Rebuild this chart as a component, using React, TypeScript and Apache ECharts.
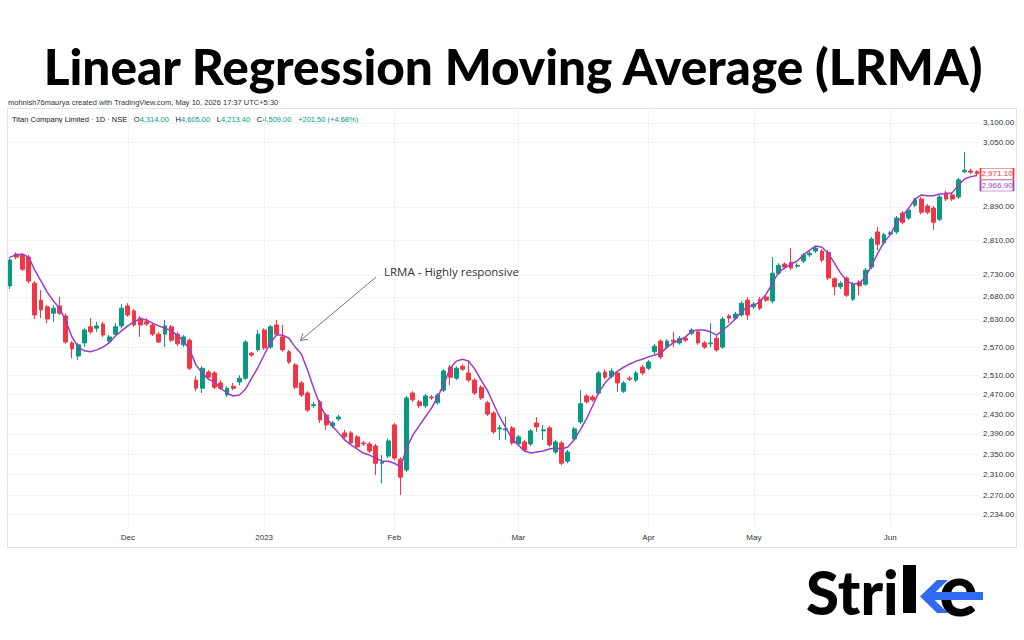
import React, { useEffect, useRef } from 'react';
import * as echarts from 'echarts';

// Trading days per month (NSE sessions), Titan Company daily chart
const nov2022 = [3, 4, 7, 9, 10, 11, 14, 15, 16, 17, 18, 21, 22, 23, 24, 25, 28, 29, 30];
const dec2022 = [1, 2, 5, 6, 7, 8, 9, 12, 13, 14, 15, 16, 19, 20, 21, 22, 23, 26, 27, 28, 29, 30];
const jan2023 = [2, 3, 4, 5, 6, 9, 10, 11, 12, 13, 16, 17, 18, 19, 20, 23, 24, 25, 27, 30, 31];
const feb2023 = [1, 2, 3, 6, 7, 8, 9, 10, 13, 14, 15, 16, 17, 20, 21, 22, 23, 24, 27, 28];
const mar2023 = [1, 2, 3, 6, 8, 9, 10, 13, 14, 15, 16, 17, 20, 21, 22, 23, 24, 27, 28, 29, 31];
const apr2023 = [3, 5, 6, 10, 11, 12, 13, 17, 18, 19, 20, 21, 24, 25, 26, 27, 28];
const may2023 = [2, 3, 4, 5, 8, 9, 10, 11, 12, 15, 16, 17, 18, 19, 22, 23, 24, 25, 26, 29, 30, 31];
const jun2023 = [1, 2, 5, 6, 7, 8, 9, 12, 13, 14, 15, 16, 19, 20, 21];

// Time-axis labels: first session of each month
const monthTickDates = ['2022-12-01', '2023-01-02', '2023-02-01', '2023-03-01', '2023-04-03', '2023-05-02', '2023-06-01'];
const monthTickLabels = ['Dec', '2023', 'Feb', 'Mar', 'Apr', 'May', 'Jun'];

// Price-scale labels (log scale)
const priceTicks = [3100, 3050, 2890, 2810, 2730, 2680, 2630, 2570, 2510, 2470, 2430, 2390, 2350, 2310, 2270, 2234];

const opens = [
  2705, 2778, 2776, 2771, 2711, 2673, 2658, 2644, 2660, 2638,
  2579, 2551, 2579, 2614, 2611, 2620, 2583, 2598, 2616, 2660,
  2649, 2633, 2625, 2618, 2598, 2598, 2614, 2598, 2575, 2585,
  2500, 2483, 2517, 2515, 2494, 2469, 2487, 2496, 2504, 2557,
  2564, 2607, 2570, 2618, 2592, 2560, 2532, 2494, 2473, 2447,
  2455, 2428, 2406, 2420, 2392, 2392, 2384, 2372, 2370, 2366,
  2332, 2346, 2408, 2340, 2319, 2473, 2455, 2447, 2465, 2453,
  2479, 2527, 2504, 2529, 2515, 2500, 2485, 2453, 2432, 2400,
  2398, 2402, 2370, 2374, 2370, 2412, 2396, 2402, 2354, 2372,
  2336, 2380, 2414, 2467, 2465, 2473, 2517, 2508, 2515, 2477,
  2504, 2500, 2527, 2525, 2560, 2583, 2570, 2585, 2579, 2589,
  2600, 2603, 2579, 2577, 2589, 2570, 2638, 2633, 2640, 2673,
  2658, 2675, 2680, 2671, 2734, 2755, 2759, 2750, 2762, 2776,
  2785, 2785, 2782, 2721, 2703, 2723, 2675, 2714, 2709, 2748,
  2830, 2804, 2825, 2830, 2875, 2863, 2894, 2909, 2892, 2887,
  2860, 2924, 2919, 2914, 2976, 2978, 2976,
];

const highs = [
  2771, 2782, 2780, 2776, 2716, 2696, 2662, 2662, 2680, 2644,
  2583, 2579, 2611, 2633, 2625, 2625, 2596, 2622, 2664, 2666,
  2653, 2638, 2633, 2622, 2603, 2629, 2618, 2603, 2596, 2589,
  2508, 2529, 2521, 2519, 2500, 2487, 2494, 2510, 2585, 2560,
  2607, 2611, 2618, 2629, 2618, 2564, 2536, 2498, 2477, 2455,
  2459, 2432, 2416, 2428, 2398, 2396, 2388, 2376, 2374, 2370,
  2348, 2380, 2412, 2344, 2467, 2477, 2459, 2471, 2469, 2473,
  2523, 2532, 2529, 2534, 2542, 2504, 2489, 2457, 2436, 2408,
  2424, 2406, 2388, 2378, 2400, 2424, 2408, 2406, 2378, 2376,
  2358, 2404, 2479, 2471, 2469, 2519, 2523, 2525, 2519, 2498,
  2508, 2519, 2532, 2542, 2577, 2587, 2587, 2603, 2594, 2594,
  2611, 2607, 2583, 2622, 2594, 2636, 2642, 2647, 2671, 2680,
  2669, 2680, 2684, 2771, 2757, 2759, 2792, 2757, 2780, 2785,
  2797, 2790, 2787, 2725, 2716, 2727, 2714, 2718, 2746, 2818,
  2842, 2828, 2832, 2868, 2880, 2887, 2912, 2914, 2897, 2892,
  2919, 2929, 2924, 2961, 3026, 2984, 2980,
];

const lows = [
  2698, 2766, 2739, 2711, 2631, 2633, 2622, 2625, 2640, 2577,
  2546, 2542, 2570, 2598, 2603, 2592, 2579, 2594, 2611, 2636,
  2614, 2592, 2616, 2594, 2579, 2570, 2581, 2572, 2570, 2521,
  2477, 2473, 2500, 2481, 2479, 2465, 2479, 2489, 2500, 2549,
  2560, 2564, 2566, 2594, 2560, 2534, 2481, 2465, 2434, 2442,
  2412, 2398, 2402, 2416, 2378, 2368, 2360, 2366, 2352, 2309,
  2293, 2342, 2338, 2271, 2315, 2455, 2442, 2442, 2459, 2449,
  2475, 2489, 2500, 2519, 2496, 2469, 2459, 2426, 2390, 2378,
  2378, 2368, 2366, 2354, 2366, 2394, 2378, 2364, 2350, 2328,
  2332, 2376, 2410, 2451, 2455, 2469, 2502, 2504, 2475, 2473,
  2498, 2496, 2510, 2521, 2555, 2544, 2566, 2570, 2575, 2581,
  2596, 2575, 2566, 2570, 2560, 2566, 2622, 2629, 2636, 2629,
  2653, 2651, 2669, 2666, 2730, 2743, 2741, 2746, 2757, 2771,
  2780, 2759, 2718, 2684, 2698, 2680, 2671, 2684, 2705, 2743,
  2787, 2799, 2820, 2825, 2848, 2858, 2889, 2872, 2872, 2835,
  2856, 2904, 2904, 2909, 2972, 2970, 2967,
];

const closes = [
  2764, 2771, 2743, 2716, 2640, 2651, 2631, 2655, 2644, 2581,
  2566, 2575, 2607, 2603, 2616, 2596, 2592, 2614, 2655, 2640,
  2618, 2618, 2620, 2598, 2581, 2616, 2585, 2577, 2592, 2525,
  2483, 2525, 2506, 2485, 2483, 2483, 2483, 2504, 2581, 2553,
  2598, 2568, 2614, 2598, 2564, 2538, 2485, 2469, 2438, 2449,
  2418, 2408, 2412, 2424, 2384, 2372, 2364, 2370, 2356, 2332,
  2334, 2376, 2342, 2305, 2463, 2459, 2447, 2467, 2463, 2469,
  2519, 2506, 2525, 2523, 2500, 2473, 2463, 2430, 2394, 2402,
  2400, 2372, 2384, 2358, 2396, 2404, 2398, 2368, 2374, 2332,
  2354, 2400, 2451, 2455, 2459, 2515, 2506, 2519, 2494, 2494,
  2502, 2515, 2515, 2538, 2572, 2549, 2583, 2581, 2589, 2585,
  2607, 2579, 2570, 2579, 2564, 2631, 2633, 2642, 2666, 2640,
  2664, 2655, 2673, 2734, 2752, 2748, 2746, 2752, 2776, 2780,
  2792, 2764, 2723, 2703, 2711, 2684, 2709, 2705, 2741, 2813,
  2801, 2823, 2828, 2863, 2853, 2882, 2907, 2877, 2877, 2853,
  2914, 2909, 2909, 2956, 2980, 2975, 2971.1,
];

// Linear Regression Moving Average values
const lrma = [
  2771, 2776, 2778, 2771, 2741, 2716, 2691, 2671, 2655, 2627,
  2592, 2570, 2562, 2560, 2564, 2570, 2579, 2594, 2605, 2616,
  2625, 2631, 2629, 2622, 2616, 2611, 2605, 2596, 2583, 2564,
  2532, 2515, 2502, 2496, 2483, 2473, 2467, 2469, 2481, 2504,
  2527, 2553, 2579, 2596, 2596, 2589, 2570, 2555, 2521, 2483,
  2449, 2424, 2406, 2392, 2378, 2368, 2360, 2352, 2348, 2342,
  2336, 2336, 2332, 2325, 2362, 2388, 2406, 2424, 2442, 2465,
  2492, 2525, 2540, 2544, 2540, 2523, 2500, 2479, 2451, 2424,
  2402, 2380, 2368, 2356, 2352, 2354, 2356, 2360, 2362, 2360,
  2364, 2378, 2398, 2420, 2447, 2475, 2494, 2508, 2519, 2527,
  2534, 2540, 2544, 2549, 2553, 2557, 2570, 2579, 2585, 2592,
  2605, 2607, 2607, 2603, 2596, 2607, 2618, 2631, 2647, 2658,
  2662, 2669, 2687, 2711, 2737, 2746, 2755, 2762, 2776, 2787,
  2797, 2794, 2780, 2757, 2734, 2716, 2709, 2711, 2725, 2752,
  2780, 2806, 2823, 2851, 2868, 2887, 2909, 2919, 2917, 2917,
  2921, 2921, 2924, 2943, 2958, 2964, 2966.9,
];

const UP = '#089981';
const DOWN = '#F23645';
const LRMA_COLOR = '#9c3cc4';
const STRIKE_BLUE = '#2f6bf0';
const UI_FONT = "'Liberation Sans', Arial, sans-serif";
const BRAND_FONT = 'Lato, sans-serif';

const pad = (n: number) => (n < 10 ? '0' + n : '' + n);
const monthDates = (ym: string, days: number[]) => days.map((d) => `${ym}-${pad(d)}`);

const dates = [
  ...monthDates('2022-11', nov2022),
  ...monthDates('2022-12', dec2022),
  ...monthDates('2023-01', jan2023),
  ...monthDates('2023-02', feb2023),
  ...monthDates('2023-03', mar2023),
  ...monthDates('2023-04', apr2023),
  ...monthDates('2023-05', may2023),
  ...monthDates('2023-06', jun2023),
];

const fmtPrice = (v: number) =>
  v.toLocaleString('en-US', { minimumFractionDigits: 2, maximumFractionDigits: 2 });

// Log price scale spans the pane from top to bottom
const Y_MIN = 2209;
const Y_MAX = 3133.9;

function buildOption(): echarts.EChartsOption {
  const ohlc = dates.map((_, i) => [opens[i], closes[i], lows[i], highs[i]]);
  const lastDate = dates[dates.length - 1];
  const lastClose = closes[closes.length - 1];
  const lastLrma = lrma[lrma.length - 1];

  return {
    animation: false,
    backgroundColor: '#ffffff',
    grid: { left: 6.9, right: 43.9, top: 110, bottom: 112 },
    xAxis: {
      type: 'category',
      data: dates,
      boundaryGap: true,
      axisLine: { show: false },
      axisTick: { show: false },
      splitLine: { show: false },
      axisLabel: {
        interval: (_i: number, v: string) => monthTickDates.includes(v),
        formatter: (v: string) => {
          const k = monthTickDates.indexOf(v);
          return k >= 0 ? monthTickLabels[k] : '';
        },
        fontSize: 8,
        color: '#333',
        margin: 5,
        fontFamily: UI_FONT,
      },
    },
    yAxis: {
      type: 'log',
      logBase: 10,
      min: Y_MIN,
      max: Y_MAX,
      position: 'right',
      axisLine: { show: false },
      axisTick: { show: false },
      axisLabel: { show: false },
      splitLine: { show: false },
    },
    series: [
      {
        type: 'candlestick',
        name: 'TITAN',
        z: 3,
        data: ohlc,
        barWidth: '70%',
        itemStyle: {
          color: UP,
          color0: DOWN,
          borderColor: UP,
          borderColor0: DOWN,
          borderWidth: 1,
        },
        markLine: {
          silent: true,
          symbol: ['none', 'none'],
          animation: false,
          z: 1,
          lineStyle: { color: '#f1f3f7', type: 'solid', width: 1 },
          label: {
            show: true,
            position: 'end',
            distance: 3,
            formatter: (p: any) => fmtPrice(p.value),
            fontSize: 8,
            color: '#333',
            fontFamily: UI_FONT,
          },
          data: [
            ...priceTicks.map((v) => ({ yAxis: v })),
            ...monthTickDates.map((d) => ({ xAxis: d, label: { show: false } })),
          ],
        },
      },
      {
        type: 'line',
        name: 'LRMA',
        z: 4,
        data: lrma,
        symbol: 'none',
        smooth: false,
        lineStyle: { color: LRMA_COLOR, width: 1.5 },
        markPoint: {
          silent: true,
          animation: false,
          data: [
            {
              coord: [lastDate, lastClose],
              symbol: 'rect',
              symbolSize: [33, 11],
              symbolOffset: [20, 0],
              itemStyle: { color: '#ffffff', borderColor: DOWN, borderWidth: 1 },
              label: {
                show: true,
                position: 'inside',
                formatter: fmtPrice(lastClose),
                color: DOWN,
                fontSize: 8,
                fontFamily: UI_FONT,
              },
            },
            {
              coord: [lastDate, lastLrma],
              symbol: 'rect',
              symbolSize: [33, 11],
              symbolOffset: [20, 10],
              itemStyle: { color: '#ffffff', borderColor: LRMA_COLOR, borderWidth: 1 },
              label: {
                show: true,
                position: 'inside',
                formatter: fmtPrice(lastLrma),
                color: LRMA_COLOR,
                fontSize: 8,
                fontFamily: UI_FONT,
              },
            },
          ],
        },
      },
    ],
    graphic: [
      {
        type: 'text',
        x: 513,
        y: 66,
        style: {
          text: 'Linear Regression Moving Average (LRMA)',
          fontFamily: BRAND_FONT,
          fontWeight: 900,
          fontSize: 49.5,
          fill: '#000',
          align: 'center',
          verticalAlign: 'middle',
        },
      },
      {
        type: 'text',
        x: 8,
        y: 102,
        style: {
          text: 'mohnish76maurya created with TradingView.com, May 10, 2026 17:37 UTC+5:30',
          fontFamily: UI_FONT,
          fontSize: 7.5,
          fill: '#333',
          verticalAlign: 'middle',
        },
      },
      {
        type: 'rect',
        shape: { x: 7.5, y: 108.5, width: 1009, height: 439 },
        style: { fill: 'none', stroke: '#e0e3eb', lineWidth: 1 },
        silent: true,
      },
      {
        type: 'text',
        x: 12,
        y: 119,
        style: {
          text:
            '{a|Titan Company Limited · 1D · NSE}  {a|O}{g|4,314.00}  {a|H}{g|4,605.00}  {a|L}{g|4,213.40}  {a|C}{g|4,509.00}  {g|+201.50 (+4.68%)}',
          verticalAlign: 'middle',
          rich: {
            a: { fontFamily: UI_FONT, fontSize: 7.5, fill: '#131722' },
            g: { fontFamily: UI_FONT, fontSize: 7.5, fill: UP },
          },
        },
      },
      {
        type: 'text',
        x: 384,
        y: 265,
        z: 100,
        style: {
          text: 'LRMA - Highly responsive',
          fontFamily: "'Open Sans', sans-serif",
          fontSize: 11.5,
          fill: '#333',
          verticalAlign: 'top',
        },
      },
      {
        type: 'line',
        z: 100,
        shape: { x1: 376, y1: 277, x2: 300.5, y2: 340.5 },
        style: { stroke: '#777', lineWidth: 1 },
      },
      {
        type: 'polyline',
        z: 100,
        shape: { points: [[308, 339.3], [300.5, 340.5], [303, 333.3]] },
        style: { stroke: '#777', lineWidth: 1, fill: 'none' },
      },
      // Strike wordmark
      {
        type: 'text',
        x: 806,
        y: 592,
        style: {
          text: 'Stri',
          fontFamily: BRAND_FONT,
          fontWeight: 900,
          fontSize: 60,
          fill: '#000',
          verticalAlign: 'middle',
        },
      },
      {
        type: 'rect',
        shape: { x: 903, y: 565, width: 13, height: 48 },
        style: { fill: '#000' },
      },
      {
        type: 'polygon',
        shape: { points: [[937, 580], [948, 580], [931, 596.5], [948, 613], [937, 613], [920, 596.5]] },
        style: { fill: STRIKE_BLUE },
      },
      {
        type: 'text',
        x: 939,
        y: 588,
        style: {
          text: 'e',
          fontFamily: BRAND_FONT,
          fontWeight: 900,
          fontSize: 72,
          fill: '#000',
          verticalAlign: 'middle',
        },
      },
      {
        type: 'rect',
        shape: { x: 930, y: 592, width: 53, height: 8 },
        style: { fill: STRIKE_BLUE },
      },
    ],
  } as any;
}

export default function App() {
  const ref = useRef<HTMLDivElement>(null);
  useEffect(() => {
    if (!ref.current) return;
    const chart = echarts.init(ref.current, undefined, { renderer: 'svg' });
    chart.setOption(buildOption());
    return () => chart.dispose();
  }, []);
  return (
    <div
      ref={ref}
      style={{ position: 'fixed', left: 0, top: 0, width: 1024, height: 640, background: '#ffffff' }}
    />
  );
}
